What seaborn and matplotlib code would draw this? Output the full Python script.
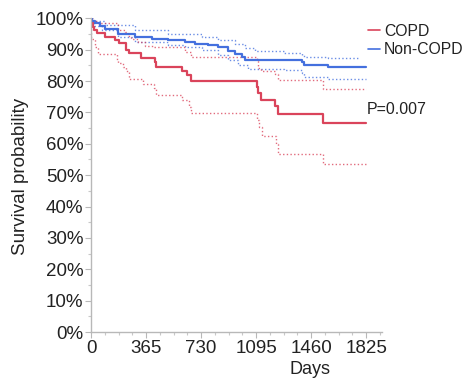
import numpy as np
import pandas as pd
import matplotlib
matplotlib.use('Agg')
import matplotlib.pyplot as plt
import seaborn as sns
from matplotlib.ticker import MultipleLocator, PercentFormatter

# Kaplan-Meier steps (days, survival fraction)
copd_days = [0, 3, 10, 20, 40, 93, 159, 187, 230, 254, 331, 424, 430, 601, 634, 662,
             1098, 1108, 1126, 1219, 1241, 1539, 1825]
copd_surv = [1.0, 0.985, 0.973, 0.962, 0.953, 0.941, 0.93, 0.92, 0.90, 0.889, 0.873, 0.86,
             0.845, 0.831, 0.818, 0.80, 0.78, 0.763, 0.741, 0.72, 0.696, 0.666, 0.666]

copd_lo_days = [0, 1, 25, 46, 170, 181, 214, 235, 250, 345, 415, 430, 605, 649, 664,
                1103, 1115, 1131, 1225, 1237, 1241, 1539, 1825]
copd_lo_surv = [1.0, 0.935, 0.91, 0.885, 0.866, 0.858, 0.845, 0.832, 0.806, 0.792, 0.778,
                0.757, 0.741, 0.718, 0.699, 0.675, 0.654, 0.624, 0.60, 0.585, 0.569, 0.534, 0.534]

copd_hi_days = [0, 5, 46, 180, 225, 245, 267, 311, 355, 420, 620, 660,
                1100, 1108, 1126, 1219, 1237, 1539, 1825]
copd_hi_surv = [1.0, 0.99, 0.984, 0.962, 0.955, 0.944, 0.934, 0.923, 0.913, 0.907, 0.893,
                0.876, 0.864, 0.843, 0.831, 0.824, 0.804, 0.776, 0.776]

non_days = [0, 7, 26, 60, 93, 181, 291, 402, 512, 623, 689, 777, 843, 909, 954, 998,
            1020, 1396, 1411, 1572, 1825]
non_surv = [1.0, 0.99, 0.984, 0.975, 0.967, 0.951, 0.94, 0.935, 0.93, 0.926, 0.919, 0.914,
            0.908, 0.896, 0.886, 0.876, 0.866, 0.86, 0.852, 0.844, 0.844]

non_hi_days = [0, 7, 93, 291, 512, 733, 843, 954, 1020, 1086, 1280, 1396, 1411, 1572, 1771]
non_hi_surv = [1.0, 0.99, 0.978, 0.962, 0.951, 0.94, 0.93, 0.919, 0.904, 0.896, 0.89,
               0.884, 0.877, 0.875, 0.875]

non_lo_days = [0, 5, 20, 70, 181, 291, 512, 623, 733, 843, 909, 975, 1040, 1280, 1396,
               1411, 1572, 1825]
non_lo_surv = [1.0, 0.985, 0.975, 0.962, 0.94, 0.925, 0.914, 0.909, 0.898, 0.882, 0.866,
               0.85, 0.84, 0.834, 0.826, 0.814, 0.808, 0.808]

red = '#d83a52'
blue = '#3a68dd'

sns.set_style('white')
plt.rcParams['font.family'] = ['Liberation Sans', 'DejaVu Sans']

fig = plt.figure(figsize=(4.67, 3.80), dpi=100)
ax = fig.add_axes([0.195, 0.1263, 0.818 - 0.195, 0.9518 - 0.1263])

curves = [
    (non_hi_days, non_hi_surv, blue, ':', 1.0, 0.75, None),
    (non_lo_days, non_lo_surv, blue, ':', 1.0, 0.75, None),
    (copd_hi_days, copd_hi_surv, red, ':', 1.0, 0.75, None),
    (copd_lo_days, copd_lo_surv, red, ':', 1.0, 0.75, None),
    (copd_days, copd_surv, red, '-', 1.6, 0.95, 'COPD'),
    (non_days, non_surv, blue, '-', 1.6, 0.95, 'Non-COPD'),
]
for d, s, c, ls, lw, a, lab in curves:
    sns.lineplot(x=d, y=s, ax=ax, color=c, linestyle=ls, linewidth=lw, alpha=a,
                 drawstyle='steps-post', estimator=None, sort=False, label=lab,
                 legend=False)

ax.set_xlim(0, 1930)
ax.set_ylim(0, 1.0)
ax.xaxis.set_major_locator(MultipleLocator(365))
ax.xaxis.set_minor_locator(MultipleLocator(91.25))
ax.yaxis.set_major_locator(MultipleLocator(0.1))
ax.yaxis.set_minor_locator(MultipleLocator(0.05))
ax.yaxis.set_major_formatter(PercentFormatter(1.0, decimals=0))

sns.despine(ax=ax)
for side in ['left', 'bottom']:
    ax.spines[side].set_color('#b8b8b8')
    ax.spines[side].set_linewidth(1.0)
ax.tick_params(which='major', direction='out', length=4, width=0.8, color='#b8b8b8',
               labelsize=13.5, labelcolor='#222222', pad=1.5)
ax.tick_params(which='minor', direction='out', length=2.5, width=0.8, color='#c8c8c8')
ax.tick_params(axis='both', which='both', left=True, bottom=True)

ax.set_ylabel('Survival probability', fontsize=13.5, color='#222222', va='center')
ax.yaxis.set_label_coords(-0.244, 0.497)
ax.set_xlabel('Days', fontsize=13, color='#222222', va='center')
ax.xaxis.set_label_coords(0.753, -0.118)

handles, labels = ax.get_legend_handles_labels()
leg = ax.legend(handles, labels, loc='upper left', bbox_to_anchor=(0.789, 0.937),
                bbox_transform=fig.transFigure, frameon=False, fontsize=11.3,
                handlelength=0.75, handletextpad=0.25, labelspacing=0.2,
                borderpad=0, borderaxespad=0)
for t in leg.get_texts():
    t.set_color('#222222')
for h in leg.get_lines():
    h.set_linewidth(1.2)

fig.text(367 / 467, 1 - 109 / 380, 'P=0.007', fontsize=11.5, color='#222222',
         ha='left', va='center')

fig.savefig('out.png', dpi=100)
